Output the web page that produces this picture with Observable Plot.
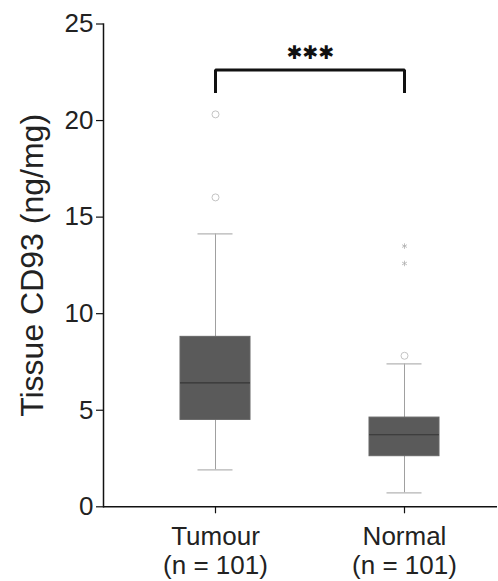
<!DOCTYPE html>
<html><head><meta charset="utf-8">
<script src="https://cdn.jsdelivr.net/npm/d3@7"></script>
<script src="https://cdn.jsdelivr.net/npm/@observablehq/plot@0.6"></script>
<style>body{margin:0;background:#fff}</style>
</head><body><div id="chart"></div>
<script>
const groups = ["Tumour", "Normal"];
const groupLabels = ["Tumour\n(n = 101)", "Normal\n(n = 101)"];
const q1 = [4.5, 2.62];
const medians = [6.42, 3.73];
const q3 = [8.8, 4.62];
const whiskerLow = [1.91, 0.72];
const whiskerHigh = [14.13, 7.40];
const outlierGroups = ["Tumour", "Tumour", "Normal"];
const outlierValues = [20.32, 16.02, 7.82];
const extremeGroups = ["Normal", "Normal"];
const extremeValues = [13.5, 12.6];
const yTicks = [0, 5, 10, 15, 20, 25];
const bracketLegs = [21.5, 22.62];
const significance = "✱✱✱";
const yLabel = "Tissue CD93 (ng/mg)";

const stats = groups.map((g, i) => ({group: g, q1: q1[i], median: medians[i], q3: q3[i], lo: whiskerLow[i], hi: whiskerHigh[i]}));
const outliers = outlierGroups.map((g, i) => ({group: g, value: outlierValues[i]}));
const extremes = extremeGroups.map((g, i) => ({group: g, value: extremeValues[i]}));
const bracket = [
  {group: groups[0], y: bracketLegs[0]},
  {group: groups[0], y: bracketLegs[1]},
  {group: groups[1], y: bracketLegs[1]},
  {group: groups[1], y: bracketLegs[0]}
];
const labelOf = new Map(groups.map((g, i) => [g, groupLabels[i]]));

const chart = Plot.plot({
  width: 498,
  height: 581,
  marginLeft: 103,
  marginRight: 1,
  marginTop: 23.5,
  marginBottom: 74.7,
  style: {fontFamily: "'Liberation Sans', Arial, sans-serif", fontSize: "26px", color: "#222", background: "#fff"},
  x: {domain: groups, paddingInner: 0.632, paddingOuter: 0.353, align: 0.569, axis: null},
  y: {domain: [0, 25], axis: null},
  marks: [
    Plot.ruleX(stats, {x: "group", y1: "lo", y2: "q1", stroke: "#a0a0a0", strokeWidth: 1}),
    Plot.ruleX(stats, {x: "group", y1: "q3", y2: "hi", stroke: "#a0a0a0", strokeWidth: 1}),
    Plot.tickY(stats, {x: "group", y: "lo", stroke: "#b4b4b4", strokeWidth: 1.2, insetLeft: 17.5, insetRight: 17.5}),
    Plot.tickY(stats, {x: "group", y: "hi", stroke: "#b4b4b4", strokeWidth: 1.2, insetLeft: 17.5, insetRight: 17.5}),
    Plot.barY(stats, {x: "group", y1: "q1", y2: "q3", fill: "#5a5a5a", stroke: "#666", strokeWidth: 1}),
    Plot.tickY(stats, {x: "group", y: "median", stroke: "#363636", strokeWidth: 1.2}),
    Plot.dot(outliers, {x: "group", y: "value", r: 3.5, stroke: "#c4c4c4", fill: "#fff", strokeWidth: 1}),
    Plot.dot(extremes, {x: "group", y: "value", symbol: "asterisk", r: 2.6, stroke: "#b0b0b0", strokeWidth: 0.8}),
    Plot.line(bracket, {x: "group", y: "y", stroke: "#111", strokeWidth: 3, strokeLinejoin: "miter", strokeLinecap: "square"}),
    Plot.text([significance], {x: () => groups[0], y: () => bracketLegs[1], dx: 95, dy: -17, text: d => d, fontFamily: "'DejaVu Sans'", fontSize: 19, fill: "#111"}),
    Plot.ruleY([0], {stroke: "#111", strokeWidth: 1.5}),
    Plot.axisY({ticks: yTicks, tickSize: 7, tickPadding: 3, label: null, stroke: "#111", strokeWidth: 1.2, fill: "#222"}),
    Plot.axisX({tickSize: 7, tickPadding: 10, label: null, stroke: "#111", strokeWidth: 1.2, tickFormat: g => labelOf.get(g), lineHeight: 1.13, fill: "#222"}),
    Plot.frame({anchor: "left", stroke: "#111", strokeWidth: 1.5}),
    Plot.text([yLabel], {frameAnchor: "left", textAnchor: "middle", rotate: -90, dx: -71, text: d => d, fontSize: 32, fill: "#222"})
  ]
});
document.getElementById("chart").appendChild(chart);
</script>
</body></html>
